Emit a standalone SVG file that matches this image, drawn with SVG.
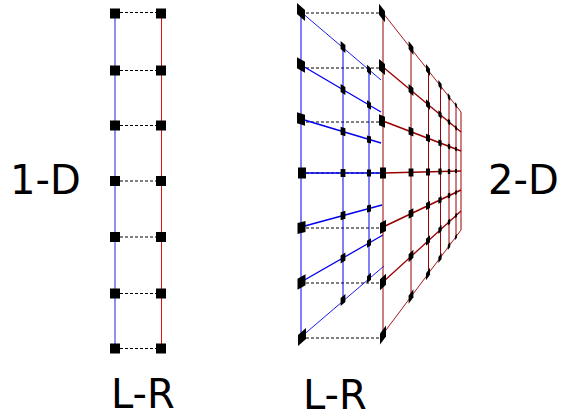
<svg xmlns="http://www.w3.org/2000/svg" width="574" height="418" viewBox="0 0 574 418">
<style>
text{font-family:"DejaVu Sans",sans-serif;font-size:40px;fill:#000}
.d{stroke:#000;stroke-width:1;stroke-dasharray:3 2;fill:none}
.b{stroke:#0000ee;fill:none}.r{stroke:#990000;fill:none}
.lb{stroke:#2222dd;stroke-width:1}.lr{stroke:#e01010;stroke-width:1}
.t{stroke-width:.9}.m{stroke-width:1.3}.h{stroke-width:1.6}
.n{fill:#000}
</style>
<defs>
<rect id="s" x="-5" y="-5" width="10" height="10" class="n"/>
<rect id="a" x="-4" y="-5.5" width="8" height="11" class="n"/>
<rect id="c" x="-3" y="-5.5" width="6" height="11" class="n"/>
<rect id="e" x="-2.4" y="-4" width="4.8" height="8" class="n"/>
<rect id="f" x="-2" y="-3.5" width="4" height="7" class="n"/>
<rect id="g" x="-1.6" y="-3" width="3.2" height="6" class="n"/>
<rect id="i" x="-1.2" y="-2.5" width="2.4" height="5" class="n"/>
<rect id="j" x="-.9" y="-2" width="1.8" height="4" class="n"/>
</defs>
<g id="connectors">
<path class="lb" d="M115 13V348"/>
<path class="lr" d="M161.500 13V348"/>
<path class="d" d="M115 12.500H161M115 70.500H161M115 125.500H161M115 181H161M115 237H161M115 293.500H161M115 348.500H161"/>
<path class="d" d="M301 13H382M301 68H382M301 122H382M301 173H382M301 228H382M301 283H382M301 338H382"/>
<path class="b" d="M301 12V338M343 47V300M369 70V278"/>
<path class="b t" d="M301 12L381 80M301 337L384 266"/>
<path class="b m" d="M301 65L381 112M301 282L383 235"/>
<path class="b h" d="M301 119L381 143M301 173H381M301 227L382 205"/>
<path class="r" d="M383 13V334M411 49V297M428.500 71V274M440.500 86V258M449 97V246M456 106V237M461 112V230"/>
<path class="r t" d="M383 13L461 112M383 334L461 230"/>
<path class="r m" d="M383 67L461 132M383 282L461 211"/>
<path class="r h" d="M383 121L461 151M383 173L461 171M383 227L461 190"/>
</g>
<g id="left-1d">
<g id="l1"><use href="#s" x="115" y="13.500"/><use href="#s" x="161" y="13.500"/></g>
<g id="l2"><use href="#s" x="115" y="70.500"/><use href="#s" x="161" y="70.500"/></g>
<g id="l3"><use href="#s" x="115" y="125.500"/><use href="#s" x="161" y="125.500"/></g>
<g id="l4"><use href="#s" x="115" y="181"/><use href="#s" x="161" y="181"/></g>
<g id="l5"><use href="#s" x="115" y="237"/><use href="#s" x="161" y="237"/></g>
<g id="l6"><use href="#s" x="115" y="293.500"/><use href="#s" x="161" y="293.500"/></g>
<g id="l7"><use href="#s" x="115" y="348.500"/><use href="#s" x="161" y="348.500"/></g>
</g>
<g id="right-2d">
<g id="r1"><use href="#a" transform="matrix(1 .85 0 1 301 12)"/><use href="#e" transform="matrix(1 .85 0 1 343 47)"/><use href="#f" transform="matrix(1 .85 0 1 369 70)"/><use href="#c" transform="matrix(1 1.25 0 1 382 13)"/><use href="#e" transform="matrix(1 1.25 0 1 411 48)"/><use href="#f" transform="matrix(1 1.25 0 1 428 70)"/><use href="#g" transform="matrix(1 1.25 0 1 440 85)"/><use href="#i" transform="matrix(1 1.25 0 1 449 97)"/><use href="#j" transform="matrix(1 1.25 0 1 456 105)"/></g>
<g id="r2"><use href="#a" transform="matrix(1 .59 0 1 301 65)"/><use href="#e" transform="matrix(1 .59 0 1 343 89.500)"/><use href="#f" transform="matrix(1 .59 0 1 369 105)"/><use href="#c" transform="matrix(1 .82 0 1 382 67)"/><use href="#e" transform="matrix(1 .82 0 1 411 90)"/><use href="#f" transform="matrix(1 .82 0 1 428 104.500)"/><use href="#g" transform="matrix(1 .82 0 1 440 114.500)"/><use href="#i" transform="matrix(1 .82 0 1 449 122)"/><use href="#j" transform="matrix(1 .82 0 1 456 128)"/></g>
<g id="r3"><use href="#a" transform="matrix(1 .3 0 1 301 119)"/><use href="#e" transform="matrix(1 .3 0 1 343 131.500)"/><use href="#f" transform="matrix(1 .3 0 1 369 139.500)"/><use href="#c" transform="matrix(1 .38 0 1 382 121)"/><use href="#e" transform="matrix(1 .38 0 1 411 131.500)"/><use href="#f" transform="matrix(1 .38 0 1 428 138)"/><use href="#g" transform="matrix(1 .38 0 1 440 143)"/><use href="#i" transform="matrix(1 .38 0 1 449 146.500)"/><use href="#j" transform="matrix(1 .38 0 1 456 149)"/></g>
<g id="r4"><use href="#a" transform="translate(302 173)"/><use href="#e" transform="translate(343 173)"/><use href="#f" transform="translate(369 173)"/><use href="#c" transform="translate(383 173)"/><use href="#e" transform="translate(411 172.500)"/><use href="#f" transform="translate(428 172)"/><use href="#g" transform="translate(440 171.500)"/><use href="#i" transform="translate(449 171.500)"/><use href="#j" transform="translate(456 171)"/></g>
<g id="r5"><use href="#a" transform="matrix(1 -.28 0 1 301.500 227.500)"/><use href="#e" transform="matrix(1 -.28 0 1 343 215.500)"/><use href="#f" transform="matrix(1 -.28 0 1 369 208.500)"/><use href="#c" transform="matrix(1 -.47 0 1 383 227)"/><use href="#e" transform="matrix(1 -.47 0 1 411 213.500)"/><use href="#f" transform="matrix(1 -.47 0 1 428 205.500)"/><use href="#g" transform="matrix(1 -.47 0 1 440 200)"/><use href="#i" transform="matrix(1 -.47 0 1 449 195.500)"/><use href="#j" transform="matrix(1 -.47 0 1 456 192.500)"/></g>
<g id="r6"><use href="#a" transform="matrix(1 -.58 0 1 301.500 282)"/><use href="#e" transform="matrix(1 -.58 0 1 343 258)"/><use href="#f" transform="matrix(1 -.58 0 1 369 243)"/><use href="#c" transform="matrix(1 -.9 0 1 383 282)"/><use href="#e" transform="matrix(1 -.9 0 1 411 256)"/><use href="#f" transform="matrix(1 -.9 0 1 428 240.500)"/><use href="#g" transform="matrix(1 -.9 0 1 440 229.500)"/><use href="#i" transform="matrix(1 -.9 0 1 449 222)"/><use href="#j" transform="matrix(1 -.9 0 1 456 215.500)"/></g>
<g id="r7"><use href="#a" transform="matrix(1 -.86 0 1 302 337)"/><use href="#e" transform="matrix(1 -.86 0 1 343 300)"/><use href="#f" transform="matrix(1 -.86 0 1 369 278)"/><use href="#c" transform="matrix(1 -1.32 0 1 383 335)"/><use href="#e" transform="matrix(1 -1.32 0 1 411 296.500)"/><use href="#f" transform="matrix(1 -1.32 0 1 428 274)"/><use href="#g" transform="matrix(1 -1.32 0 1 440 258)"/><use href="#i" transform="matrix(1 -1.32 0 1 449 246)"/><use href="#j" transform="matrix(1 -1.32 0 1 456 237)"/></g>
</g>
<g id="labels">
<text x="10" y="194">1-D</text>
<text x="488" y="194">2-D</text>
<text x="111" y="408">L-R</text>
<text x="303" y="409">L-R</text>
</g>
</svg>
